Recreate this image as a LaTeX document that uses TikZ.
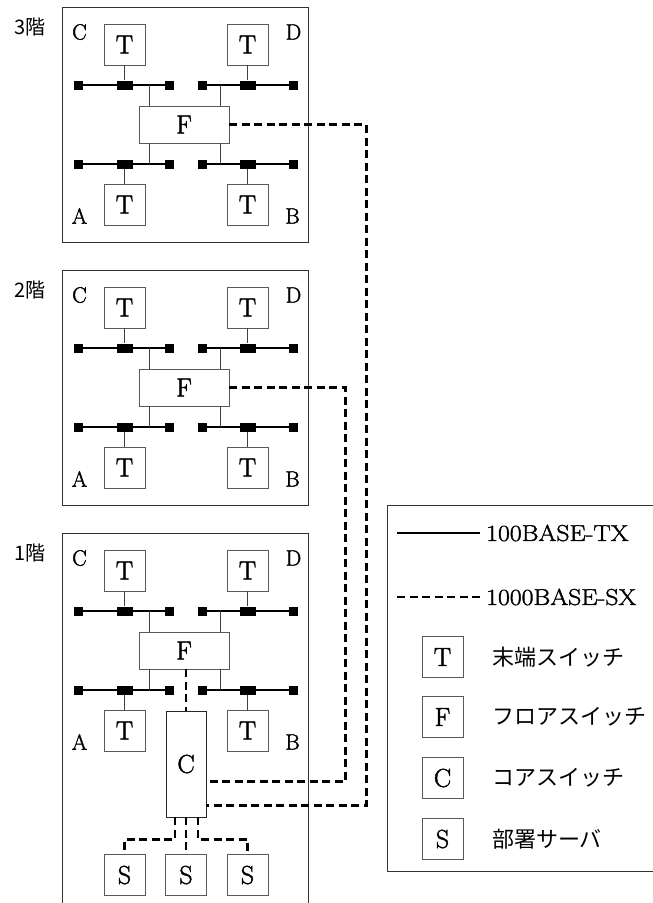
\documentclass[tikz,border=0pt]{standalone}
\usepackage{fontspec}
\setmainfont{Latin Modern Roman}[FakeBold=1.6]
\newfontfamily\lgfont{Latin Modern Roman}[FakeBold=1.6,FakeStretch=1.12]
\newfontfamily\jp{Noto Sans CJK JP}
\begin{document}
\begin{tikzpicture}[x=1pt,y=-1pt,
  sw/.style={draw=black!65,line width=0.9pt,minimum width=41pt,minimum height=41pt,inner sep=0pt,font=\fontsize{26}{26}\selectfont},
  fsw/.style={sw,minimum width=90pt,minimum height=37pt},
  csw/.style={sw,draw=black!85,minimum width=40pt,minimum height=106pt},
  bus/.style={line width=1.5pt},
  drop/.style={line width=0.9pt,draw=black!75},
  fiber/.style={line width=2.5pt,dash pattern=on 8pt off 4.5pt},
  endp/.style={fill=black,minimum width=9pt,minimum height=9pt,inner sep=0pt},
  junc/.style={fill=black,minimum width=16pt,minimum height=9pt,inner sep=0pt},
  lbl/.style={inner sep=0pt,font=\fontsize{22}{22}\selectfont},
  lgt/.style={inner sep=0pt,anchor=west,font=\lgfont\fontsize{23}{23}\selectfont},
  flr/.style={inner sep=0pt,font=\jp\fontsize{20}{20}\selectfont},
  jpt/.style={inner sep=0pt,anchor=west,font=\jp\fontsize{22}{22}\selectfont},
  frame/.style={draw=black!80,line width=0.9pt}]
\useasboundingbox (0,0) rectangle (653,903);
\foreach \fl/\dy in {3/0,2/263,1/526}{
\begin{scope}[yshift=-\dy pt]
  \draw[frame] (62,7) rectangle (308,{\fl==1 ? 930 : 242});
  \node[flr] (lab\fl) at (30,27) {\fl 階};
  \node[lbl] (c\fl) at (79.5,32) {C};
  \node[lbl] (d\fl) at (293.5,32) {D};
  \node[lbl] (a\fl) at (79.5,216) {A};
  \node[lbl] (b\fl) at (292.5,216) {B};
  \node[sw] (TC\fl) at (124.5,44.5) {T};
  \node[sw] (TD\fl) at (247.5,44.5) {T};
  \node[sw] (TA\fl) at (124.5,204.5) {T};
  \node[sw] (TB\fl) at (247.5,204.5) {T};
  \node[fsw] (F\fl) at (184,124.5) {F};
  % upper buses
  \node[endp] (ula\fl) at (78,85) {};
  \node[junc] (ulj\fl) at (124.5,85) {};
  \node[endp] (ulb\fl) at (169.5,85) {};
  \node[endp] (ura\fl) at (202.5,85) {};
  \node[junc] (urj\fl) at (247.5,85) {};
  \node[endp] (urb\fl) at (293.5,85) {};
  % lower buses
  \node[endp] (lla\fl) at (78,164) {};
  \node[junc] (llj\fl) at (124.5,164) {};
  \node[endp] (llb\fl) at (169.5,164) {};
  \node[endp] (lra\fl) at (202.5,164) {};
  \node[junc] (lrj\fl) at (247.5,164) {};
  \node[endp] (lrb\fl) at (293.5,164) {};
  \draw[bus] (ula\fl) -- (ulb\fl);
  \draw[bus] (ura\fl) -- (urb\fl);
  \draw[bus] (lla\fl) -- (llb\fl);
  \draw[bus] (lra\fl) -- (lrb\fl);
  \draw[drop] (TC\fl) -- (ulj\fl);
  \draw[drop] (TD\fl) -- (urj\fl);
  \draw[drop] (TA\fl) -- (llj\fl);
  \draw[drop] (TB\fl) -- (lrj\fl);
  \draw[drop] ([xshift=11pt]F\fl.north west) -- ([xshift=11pt]F\fl.north west |- ula\fl);
  \draw[drop] ([xshift=-9pt]F\fl.north east) -- ([xshift=-9pt]F\fl.north east |- ura\fl);
  \draw[drop] ([xshift=11pt]F\fl.south west) -- ([xshift=11pt]F\fl.south west |- lla\fl);
  \draw[drop] ([xshift=-9pt]F\fl.south east) -- ([xshift=-9pt]F\fl.south east |- lra\fl);
\end{scope}
}
% core switch and servers on floor 1
\node[csw] (CS) at (186,764) {C};
\draw[fiber] (F1.south -| CS) -- (CS.north);
\node[sw] (S1) at (124.5,875) {S};
\node[sw] (S2) at (186,875) {S};
\node[sw] (S3) at (247.5,875) {S};
\draw[fiber] ([xshift=-11pt]CS.south) -- ++(0,22) -| (S1.north);
\draw[fiber] (CS.south) -- (S2.north);
\draw[fiber] ([xshift=12pt]CS.south) -- ++(0,22) -| (S3.north);
% uplinks
\draw[fiber] (F3.east) -- ++(137,0) |- ([yshift=12pt]CS.south east);
\draw[fiber] (F2.east) -- ++(116,0) |- ([yshift=36pt]CS.south east);
% legend
\draw[frame] (387,505) rectangle (680,871);
\coordinate (l1a) at (397,533);
\coordinate (l1b) at (480,533);
\draw[line width=1.3pt] (l1a) -- (l1b);
\node[lgt] (t1) at (486,533) {100BASE-TX};
\coordinate (l2a) at (397,597);
\coordinate (l2b) at (480,597);
\draw[line width=2.3pt,dash pattern=on 8pt off 4.5pt] (l2a) -- (l2b);
\node[lgt] (t2) at (486,597) {1000BASE-SX};
\node[sw] (LT) at (442.5,657) {T};
\node[jpt] (jt) at (492,657) {末端スイッチ};
\node[sw] (LF) at (442.5,717) {F};
\node[jpt] (jf) at (492,717) {フロアスイッチ};
\node[sw] (LC) at (442.5,778) {C};
\node[jpt] (jc) at (492,778) {コアスイッチ};
\node[sw] (LS) at (442.5,839) {S};
\node[jpt] (js) at (492,839) {部署サーバ};
\end{tikzpicture}
\end{document}
